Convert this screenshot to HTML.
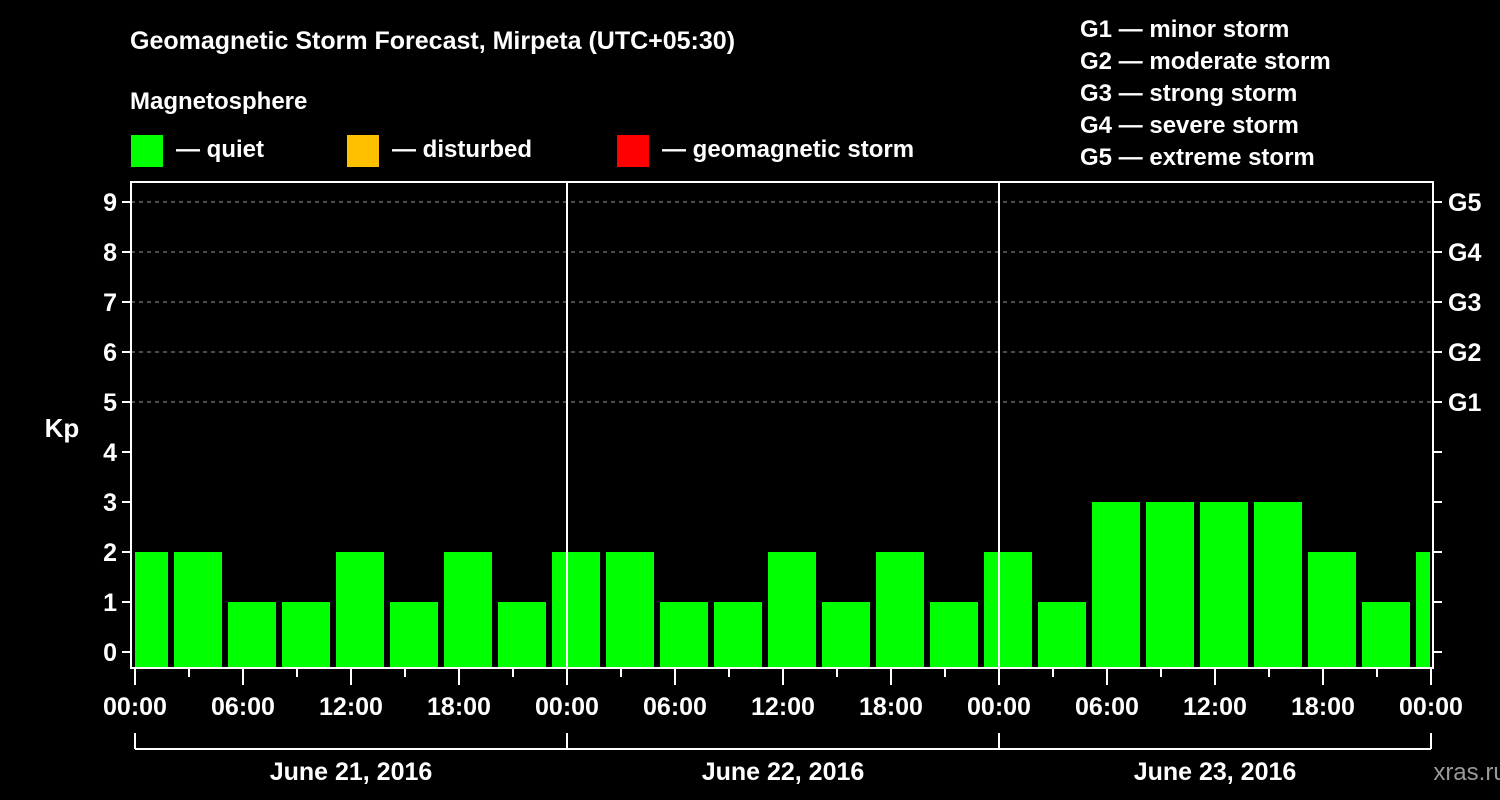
<!DOCTYPE html>
<html><head><meta charset="utf-8"><style>
html,body{margin:0;padding:0;background:#000;}
svg{display:block;font-family:"Liberation Sans",Arial,sans-serif;font-weight:bold;}
</style></head><body>
<svg id="chart" width="1500" height="800" viewBox="0 0 1500 800">
<rect x="0" y="0" width="1500" height="800" fill="#000"/>
<text x="130" y="49" fill="#fff" font-size="25">Geomagnetic Storm Forecast, Mirpeta (UTC+05:30)</text>
<text x="130" y="109" fill="#fff" font-size="24">Magnetosphere</text>
<g><rect x="131" y="135" width="32" height="32" fill="#00ff00"/><text x="176" y="157" fill="#fff" font-size="24">— quiet</text></g>
<g><rect x="347" y="135" width="32" height="32" fill="#ffc000"/><text x="392" y="157" fill="#fff" font-size="24">— disturbed</text></g>
<g><rect x="617" y="135" width="32" height="32" fill="#ff0000"/><text x="662" y="157" fill="#fff" font-size="24">— geomagnetic storm</text></g>
<g fill="#fff" font-size="24">
<text x="1080" y="37">G1 — minor storm</text>
<text x="1080" y="69">G2 — moderate storm</text>
<text x="1080" y="101">G3 — strong storm</text>
<text x="1080" y="133">G4 — severe storm</text>
<text x="1080" y="165">G5 — extreme storm</text>
</g>
<text x="62" y="437" fill="#fff" font-size="26" text-anchor="middle">Kp</text>
<text x="1470" y="780" fill="#999" font-size="24" text-anchor="middle" font-weight="normal">xras.ru</text>
<g id="plot"></g>
</svg>
<script>
const kpValues=[2,2,1,1,2,1,2,1,2,2,1,1,2,1,2,1,2,1,3,3,3,3,2,1,2];
const yTicks=[0,1,2,3,4,5,6,7,8,9];
const gLabels=["G1","G2","G3","G4","G5"];
const gLevels=[5,6,7,8,9];
const xTickLabels=["00:00","06:00","12:00","18:00","00:00","06:00","12:00","18:00","00:00","06:00","12:00","18:00","00:00"];
const dayLabels=["June 21, 2016","June 22, 2016","June 23, 2016"];
const barStartHour=-0.8333, barHours=3;

const L=131,R=1433,T=182,B=668,X0=135,PXH=18;
const xs=h=>X0+h*PXH;
const ys=v=>652-v*50;
const NS="http://www.w3.org/2000/svg";
const plot=document.getElementById('plot');
function mk(tag,attrs,parent){const e=document.createElementNS(NS,tag);for(const k in attrs)e.setAttribute(k,attrs[k]);(parent||plot).appendChild(e);return e;}

// grid lines
gLevels.forEach(v=>{
 const e=mk('line',{x1:L,x2:R,y1:ys(v),y2:ys(v),stroke:'#999','stroke-width':1,'stroke-dasharray':'4,4'});
 
 
});
// bars
const clip=mk('clipPath',{id:'pc'});mk('rect',{x:L+4,y:T,width:R-L-4-3,height:B-T},clip);
kpValues.forEach((v,i)=>{
 const h0=barStartHour+i*barHours;
 const x1=xs(h0), x2=xs(h0+barHours)-6;
 const c=v>=5?'#ff0000':(v>=4?'#ffc000':'#00ff00');
 const e=mk('rect',{x:x1,y:ys(v),width:x2-x1,height:B-ys(v),fill:c,'clip-path':'url(#pc)'});
 
 
});
// day separators
[1,2].forEach(d=>{
 const e=mk('line',{x1:xs(24*d),x2:xs(24*d),y1:T,y2:B,stroke:'#fff','stroke-width':2});
 
 
});
// frame
const fr=mk('rect',{x:L,y:T,width:R-L,height:B-T,fill:'none',stroke:'#fff','stroke-width':2});


// y ticks
yTicks.forEach(v=>{
 mk('line',{x1:L-9,x2:L,y1:ys(v),y2:ys(v),stroke:'#fff','stroke-width':2});
 mk('line',{x1:R,x2:R+9,y1:ys(v),y2:ys(v),stroke:'#fff','stroke-width':2});
 const t=mk('text',{x:L-14,y:ys(v)+9,fill:'#fff','font-size':25,'text-anchor':'end'});t.textContent=v;
 
 
});
gLabels.forEach((g,i)=>{
 const t=mk('text',{x:1448,y:ys(gLevels[i])+9,fill:'#fff','font-size':25});t.textContent=g;
 
 
});
// x ticks
for(let h=0;h<=72;h+=3){
 const major=h%6===0;
 mk('line',{x1:xs(h),x2:xs(h),y1:B,y2:major?685:677,stroke:'#fff','stroke-width':2});
}
xTickLabels.forEach((s,i)=>{
 const t=mk('text',{x:xs(i*6),y:715,fill:'#fff','font-size':25,'text-anchor':'middle'});t.textContent=s;
 
 
});
// day bracket
mk('line',{x1:xs(0),x2:xs(72),y1:749,y2:749,stroke:'#fff','stroke-width':2});
for(let d=0;d<=3;d++)mk('line',{x1:xs(24*d),x2:xs(24*d),y1:733,y2:749,stroke:'#fff','stroke-width':2});
dayLabels.forEach((s,i)=>{
 const t=mk('text',{x:xs(24*i+12),y:780,fill:'#fff','font-size':25,'text-anchor':'middle'});t.textContent=s;
 
 
});
</script>
</body></html>
